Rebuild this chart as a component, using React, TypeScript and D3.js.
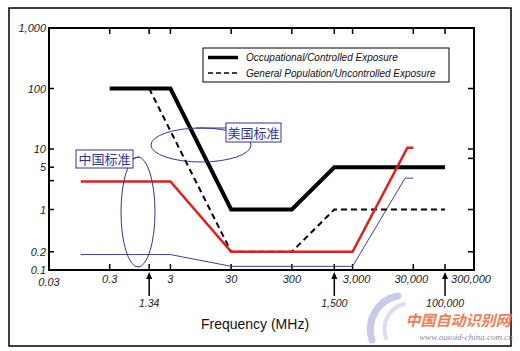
import * as d3 from "d3";

// frequency (MHz) / power density breakpoints
const occFreq = [0.3, 3, 30, 300, 1500, 100000];
const occVal = [100, 100, 1, 1, 5, 5];
const genFreq = [1.34, 30, 300, 1500, 100000];
const genVal = [100, 0.2, 0.2, 1, 1];
const cnOccFreq = [0.1, 3, 30, 3000, 24000, 30000];
const cnOccVal = [2.9, 2.9, 0.2, 0.2, 10.5, 10.5];
const cnPubFreq = [0.1, 3, 30, 3000, 22000, 30000];
const cnPubVal = [0.18, 0.18, 0.115, 0.115, 3.3, 3.3];

const xTickVals = [0.3, 3, 30, 300, 3000, 30000, 300000];
const xTickLabels = ["0.3", "3", "30", "300", "3,000", "30,000", "300,000"];
const xMarkVals = [0.3, 1.34, 3, 30, 300, 1500, 3000, 30000, 100000];
const arrowVals = [1.34, 1500, 100000];
const arrowLabels = ["1.34", "1,500", "100,000"];
const yTickVals = [1000, 100, 10, 5, 1, 0.2, 0.1];
const yTickLabels = ["1,000", "100", "10", "5", "1", "0.2", "0.1"];
const yLeftMarks = [100, 10, 5, 3, 1, 0.2];
const yRightMarks = [100, 10, 7, 1, 0.2];

const sans = "'Liberation Sans', Arial, sans-serif";
const cjk = "'Noto Sans CJK SC', sans-serif";
const navy = "#33339a";

export default function App() {
  const x = d3.scaleLog().domain([0.03, 300000]).range([49, 474]);
  const y = d3.scaleLog().domain([0.1, 1000]).range([270, 28]);
  const [x0, x1] = x.range();
  const [yb, yt] = y.range();

  const line = (fs: number[], vs: number[]) =>
    d3.line<number>().x((_, i) => x(fs[i])).y((_, i) => y(vs[i]))(fs.map((_, i) => i)) || "";

  // small horizontal nudges so labels sit like the original
  const labelShift = [0, 0, 0, 0, 4, -2, -3];

  return (
    <svg width={520} height={351} style={{ position: "absolute", left: 0, top: 0, background: "#fff" }}>
      <rect x={9} y={8} width={502} height={338} fill="none" stroke="#000" strokeWidth={1.5} />

      {/* watermark */}
      <g fill="none" stroke="#c9c9ea" strokeLinecap="round">
        <path d="M398,296 A34,34 0 0 0 372,340" strokeWidth={7} />
        <path d="M404,304 A26,26 0 0 0 386,338" strokeWidth={4} stroke="#dcdcf2" />
      </g>
      <text x={458} y={326} textAnchor="middle" fontFamily={cjk} fontWeight="bold" fontStyle="italic" fontSize={15} fill="#ec6a3a" opacity={0.85}>
        中国自动识别网
      </text>
      <text x={466} y={340} textAnchor="middle" fontFamily="'Liberation Serif', serif" fontStyle="italic" fontSize={9} fill="#8a8aa8">
        www.autoid-china.com.cn
      </text>

      {/* plot frame */}
      <rect x={x0} y={yt} width={x1 - x0} height={yb - yt} fill="none" stroke="#000" strokeWidth={2} />

      {xMarkVals.map((v) => (
        <g key={"xm" + v} stroke="#000" strokeWidth={1.5}>
          <line x1={x(v)} x2={x(v)} y1={yt} y2={yt + 6} />
          <line x1={x(v)} x2={x(v)} y1={yb} y2={yb - 6} />
        </g>
      ))}
      {yLeftMarks.map((v) => (
        <line key={"yl" + v} x1={x0} x2={x0 + 5} y1={y(v)} y2={y(v)} stroke="#000" strokeWidth={1.5} />
      ))}
      {yRightMarks.map((v) => (
        <line key={"yr" + v} x1={x1} x2={x1 - 6} y1={y(v)} y2={y(v)} stroke="#000" strokeWidth={1.5} />
      ))}

      {/* tick labels */}
      <g fontFamily={sans} fontStyle="italic" fontSize={11} fill="#222">
        {yTickVals.map((v, i) => (
          <text key={"yt" + v} x={46} y={y(v) + 4} textAnchor="end">
            {yTickLabels[i]}
          </text>
        ))}
        <text x={x0} y={286} textAnchor="middle">0.03</text>
        {xTickVals.map((v, i) => (
          <text key={"xt" + v} x={x(v) + labelShift[i]} y={283} textAnchor="middle">
            {xTickLabels[i]}
          </text>
        ))}
        {arrowVals.map((v, i) => (
          <text key={"al" + v} x={x(v)} y={307} textAnchor="middle" fontSize={10.5}>
            {arrowLabels[i]}
          </text>
        ))}
      </g>
      {arrowVals.map((v) => (
        <g key={"ar" + v}>
          <line x1={x(v)} x2={x(v)} y1={296} y2={278} stroke="#000" strokeWidth={1.5} />
          <path d={`M${x(v)},${272} l-3,7 l6,0 z`} fill="#000" />
        </g>
      ))}
      <text x={255} y={329} textAnchor="middle" fontFamily={sans} fontSize={14} fill="#111">
        Frequency (MHz)
      </text>

      {/* series */}
      <path d={line(cnPubFreq, cnPubVal)} fill="none" stroke="#3c3ca6" strokeWidth={1} />
      <path d={line(occFreq, occVal)} fill="none" stroke="#000" strokeWidth={4} strokeLinejoin="miter" />
      <path d={line(genFreq, genVal)} fill="none" stroke="#000" strokeWidth={2} strokeDasharray="6,4" />
      <path d={line(cnOccFreq, cnOccVal)} fill="none" stroke="#e41c1c" strokeWidth={2.5} />

      {/* legend */}
      <rect x={203} y={48} width={246} height={34} fill="#fff" stroke="#000" strokeWidth={1} />
      <line x1={208} x2={238} y1={57.5} y2={57.5} stroke="#000" strokeWidth={3.5} />
      <line x1={208} x2={238} y1={73} y2={73} stroke="#000" strokeWidth={1.5} strokeDasharray="5,3" />
      <g fontFamily={sans} fontStyle="italic" fontSize={10} fill="#111">
        <text x={246} y={61}>Occupational/Controlled Exposure</text>
        <text x={246} y={77}>General Population/Uncontrolled Exposure</text>
      </g>

      {/* annotations */}
      <g fill="none" stroke={navy} strokeWidth={1}>
        <ellipse cx={201} cy={145} rx={50} ry={17} />
        <line x1={196} x2={226} y1={128} y2={128} />
        <ellipse cx={138} cy={212} rx={17} ry={55} />
        <path d="M133,159 Q137,157 139,157" />
      </g>
      <rect x={226} y={123} width={55} height={19} fill="#fff" stroke={navy} strokeWidth={1} />
      <text x={253.5} y={137.5} textAnchor="middle" fontFamily={cjk} fontSize={13} fill={navy}>美国标准</text>
      <rect x={76} y={150} width={57} height={18} fill="#fff" stroke={navy} strokeWidth={1} />
      <text x={104.5} y={164} textAnchor="middle" fontFamily={cjk} fontSize={13} fill={navy}>中国标准</text>
    </svg>
  );
}
